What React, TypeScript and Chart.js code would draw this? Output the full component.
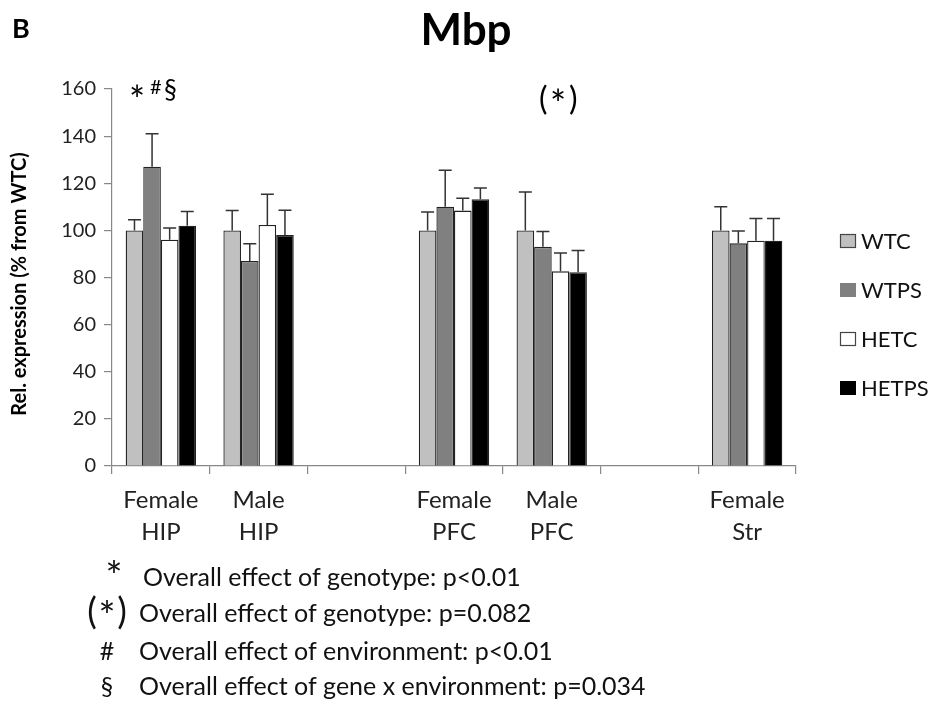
import React, { useEffect, useRef } from "react";
import { Chart, registerables } from "chart.js";
Chart.register(...registerables);

const categories: (string | string[])[] = [["Female", "HIP"], ["Male", "HIP"], "", ["Female", "PFC"], ["Male", "PFC"], "", ["Female", "Str"]];
const seriesNames = ["WTC", "WTPS", "HETC", "HETPS"];
const wtc = [100, 100, null, 100, 100, null, 100];
const wtcErr = [4.5, 8.4, null, 7.8, 16.3, null, 10];
const wtps = [127, 87, null, 110, 93, null, 94.5];
const wtpsErr = [14, 7.3, null, 15.5, 6.5, null, 5.2];
const hetc = [96, 102.3, null, 108.4, 82.6, null, 95.6];
const hetcErr = [5, 13, null, 5.2, 7.8, null, 9.4];
const hetps = [102, 98, null, 113.2, 82.2, null, 95.6];
const hetpsErr = [6, 10.5, null, 4.8, 9.3, null, 9.4];
const yTicks = [0, 20, 40, 60, 80, 100, 120, 140, 160];
const footnotes = [
  { sym: "*", text: "Overall effect of genotype: p<0.01" },
  { sym: "(*)", text: "Overall effect of genotype: p=0.082" },
  { sym: "#", text: "Overall effect of environment: p<0.01" },
  { sym: "§", text: "Overall effect of gene x environment: p=0.034" },
];

const FONT = "Lato, 'Open Sans', sans-serif";
const colors = ["#c0c0c0", "#808080", "#ffffff", "#000000"];
const errs = [wtcErr, wtpsErr, hetcErr, hetpsErr];

const errorBarPlugin = {
  id: "errorBars",
  afterDatasetsDraw(chart: any) {
    const ctx = chart.ctx;
    const y = chart.scales.y;
    ctx.save();
    ctx.strokeStyle = "#333";
    ctx.lineWidth = 1.5;
    chart.data.datasets.forEach((ds: any, i: number) => {
      const meta = chart.getDatasetMeta(i);
      meta.data.forEach((bar: any, j: number) => {
        const v = ds.data[j];
        const e = errs[i][j];
        if (v == null || e == null) return;
        const top = y.getPixelForValue(v + e);
        const base = y.getPixelForValue(v);
        ctx.beginPath();
        ctx.moveTo(bar.x, base);
        ctx.lineTo(bar.x, top);
        ctx.moveTo(bar.x - 6.5, top);
        ctx.lineTo(bar.x + 6.5, top);
        ctx.stroke();
      });
    });
    ctx.restore();
  },
};

const decorPlugin = {
  id: "decor",
  afterDraw(chart: any) {
    const ctx = chart.ctx;
    ctx.save();
    ctx.fillStyle = "#000";
    ctx.textBaseline = "middle";
    // panel letter and title
    ctx.font = `bold 27px ${FONT}`;
    ctx.textAlign = "left";
    ctx.fillText("B", 12, 29);
    ctx.font = `bold 44px ${FONT}`;
    ctx.textAlign = "center";
    ctx.fillText("Mbp", 466, 31);
    // significance marks
    ctx.textAlign = "left";
    ctx.font = `38px ${FONT}`;
    ctx.fillText("*", 129, 102);
    ctx.font = `20px ${FONT}`;
    ctx.fillText("#", 150, 88);
    ctx.font = `26px ${FONT}`;
    ctx.fillText("§", 164, 91);
    ctx.font = `32px ${FONT}`;
    ctx.fillText("(", 539, 100);
    ctx.fillText(")", 569, 100);
    ctx.font = `38px ${FONT}`;
    ctx.fillText("*", 550, 106);
    // y title
    ctx.save();
    ctx.translate(20, 284);
    ctx.rotate(-Math.PI / 2);
    ctx.textAlign = "center";
    ctx.font = `bold 20px ${FONT}`;
    ctx.fillText("Rel. expression (% from WTC)", 0, 0);
    ctx.restore();
    // legend
    const ly = [241, 290, 339, 388];
    chart.data.datasets.forEach((ds: any, i: number) => {
      ctx.fillStyle = ds.backgroundColor;
      ctx.fillRect(840, ly[i] - 7, 16, 14);
      ctx.strokeStyle = "#444";
      ctx.lineWidth = 1.2;
      if (i === 0 || i === 2) ctx.strokeRect(840.5, ly[i] - 6.5, 15, 13);
      ctx.fillStyle = "#111";
      ctx.font = `22px ${FONT}`;
      ctx.textAlign = "left";
      ctx.fillText(ds.label, 861, ly[i] + 1);
    });
    // footnotes
    const fy = [578, 614, 652, 687];
    footnotes.forEach((f, i) => {
      ctx.fillStyle = "#111";
      ctx.textAlign = "center";
      if (i === 0) {
        ctx.font = `40px ${FONT}`;
        ctx.fillText("*", 114, 578);
      } else if (i === 1) {
        ctx.font = `36px ${FONT}`;
        ctx.fillText("(", 92, 612);
        ctx.fillText(")", 122, 612);
        ctx.font = `40px ${FONT}`;
        ctx.fillText("*", 107, 618);
      } else {
        ctx.font = `25px ${FONT}`;
        ctx.fillText(f.sym, 107, fy[i]);
      }
      ctx.textAlign = "left";
      ctx.font = `25px ${FONT}`;
      ctx.fillText(f.text, i === 0 ? 143 : 139, fy[i]);
    });
    ctx.restore();
  },
};

export default function App() {
  const ref = useRef<HTMLCanvasElement>(null);
  useEffect(() => {
    if (!ref.current) return;
    const datasets = [wtc, wtps, hetc, hetps].map((d, i) => ({
      label: seriesNames[i],
      data: d,
      backgroundColor: colors[i],
      borderColor: "#222",
      borderWidth: 1.3,
      categoryPercentage: 0.72,
      barPercentage: 1.0,
    }));
    const chart = new Chart(ref.current, {
      type: "bar",
      data: { labels: categories, datasets },
      options: {
        responsive: false,
        animation: false,
        layout: { padding: { left: 0, right: 140, top: 89, bottom: 0 } },
        plugins: { legend: { display: false }, tooltip: { enabled: false } },
        scales: {
          x: {
            afterFit: (s: any) => { s.height = 249; },
            grid: { display: true, drawOnChartArea: false, drawTicks: true, tickLength: 8, color: "#888", lineWidth: 1.2, offset: true },
            border: { display: true, color: "#888", width: 1.2 },
            ticks: { color: "#222", font: { family: FONT, size: 24, lineHeight: 1.33 }, padding: 10, maxRotation: 0, autoSkip: false },
          },
          y: {
            min: 0,
            max: 160,
            afterFit: (s: any) => { s.width = 112; },
            afterBuildTicks: (s: any) => { s.ticks = yTicks.map((v) => ({ value: v })); },
            grid: { display: true, drawOnChartArea: false, drawTicks: true, tickLength: 8, color: "#888", lineWidth: 1.2 },
            border: { display: true, color: "#888", width: 1.2 },
            ticks: { color: "#222", font: { family: FONT, size: 20 }, padding: 8 },
          },
        },
      },
      plugins: [errorBarPlugin, decorPlugin],
    } as any);
    return () => chart.destroy();
  }, []);
  return (
    <div style={{ position: "fixed", left: 0, top: 0, width: 936, height: 715, background: "#fff" }}>
      <canvas ref={ref} width={936} height={715} />
    </div>
  );
}
